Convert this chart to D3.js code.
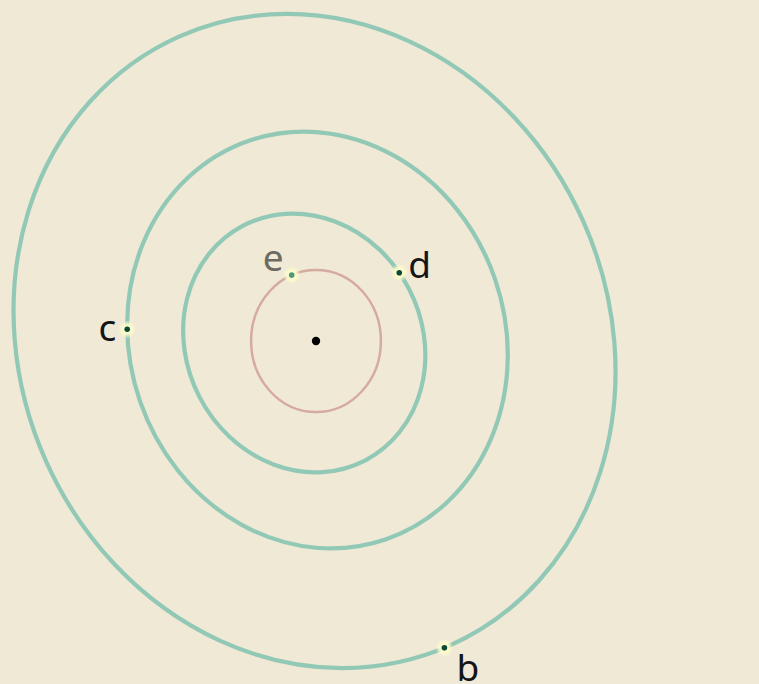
<!DOCTYPE html>
<html>
<head>
<meta charset="utf-8">
<script src="https://cdn.jsdelivr.net/npm/d3@7"></script>
<style>
  html, body { margin: 0; padding: 0; background: #f0e9d6; }
  svg { display: block; }
</style>
</head>
<body>
<div id="chart"></div>
<script>
// HR 8799 planets, sky-projected orbits
const planets = ["b", "c", "d", "e"];
const semiMajorAU = [68, 43, 27, 14.5];
const inclinationDeg = [28, 27, 27, 24];
const tiltDeg = [66, 71, 62.5, 90];          // direction of projected major axis
const centerOffsetAU = [[-0.3, 0], [0.3, -0.2], [-2.4, 0.4], [0, 0]];
const phaseDeg = [1.2, 110, 262, 158];        // where the planet sits on its orbit

const width = 759, height = 684;
const starX = 316, starY = 341;
const pxPerAU = 4.9;

const x = d3.scaleLinear().domain([-80, 80]).range([starX - 80 * pxPerAU, starX + 80 * pxPerAU]);
const y = d3.scaleLinear().domain([-80, 80]).range([starY - 80 * pxPerAU, starY + 80 * pxPerAU]);

const data = planets.map((name, i) => ({
    name,
    a: semiMajorAU[i],
    inc: inclinationDeg[i],
    tilt: tiltDeg[i],
    off: centerOffsetAU[i],
    phase: phaseDeg[i],
}));

const svg = d3.select("#chart")
    .append("svg")
    .attr("width", width)
    .attr("height", height);

svg.append("rect").attr("width", width).attr("height", height).attr("fill", "#f0e9d6");

const defs = svg.append("defs");
const glow = defs.append("radialGradient").attr("id", "glow");
glow.append("stop").attr("offset", "0%").attr("stop-color", "#ffffd6").attr("stop-opacity", 1);
glow.append("stop").attr("offset", "55%").attr("stop-color", "#fdfccb").attr("stop-opacity", 0.9);
glow.append("stop").attr("offset", "100%").attr("stop-color", "#fdfccb").attr("stop-opacity", 0);

// orbit ellipses
const orbits = svg.selectAll("g.orbit")
    .data(data)
    .enter()
    .append("g")
    .attr("class", "orbit")
    .attr("transform", (d) => `translate(${x(d.off[0])},${y(d.off[1])}) rotate(${d.tilt})`);

orbits.append("ellipse")
    .attr("rx", (d) => x(d.a) - x(0))
    .attr("ry", (d) => (x(d.a) - x(0)) * Math.cos(d.inc * Math.PI / 180))
    .attr("fill", "none")
    .attr("stroke", (d) => d.name === "e" ? "#d6ab9f" : "#92c9b6")
    .attr("stroke-width", (d) => d.name === "e" ? 2.5 : 4.2);

// planet position on its projected orbit
function planetPos(d) {
    const rx = x(d.a) - x(0);
    const ry = rx * Math.cos(d.inc * Math.PI / 180);
    const t = d.phase * Math.PI / 180;
    const th = d.tilt * Math.PI / 180;
    const px = rx * Math.cos(t), py = ry * Math.sin(t);
    return [
        x(d.off[0]) + px * Math.cos(th) - py * Math.sin(th),
        y(d.off[1]) + px * Math.sin(th) + py * Math.cos(th),
    ];
}

const labelStyle = {
    b: { dx: 12, dy: 33, anchor: "start", color: "#151515" },
    c: { dx: -11, dy: 12, anchor: "end", color: "#151515" },
    d: { dx: 9, dy: 5, anchor: "start", color: "#151515" },
    e: { dx: -8, dy: -4, anchor: "end", color: "#6d6a62" },
};

const marks = svg.selectAll("g.planet")
    .data(data)
    .enter()
    .append("g")
    .attr("class", "planet")
    .attr("transform", (d) => `translate(${planetPos(d)})`);

marks.append("circle").attr("r", 9).attr("fill", "url(#glow)");
marks.append("circle")
    .attr("r", 2.8)
    .attr("fill", (d) => d.name === "e" ? "#4f9a78" : "#0c4a38");

marks.append("text")
    .attr("x", (d) => labelStyle[d.name].dx)
    .attr("y", (d) => labelStyle[d.name].dy)
    .attr("text-anchor", (d) => labelStyle[d.name].anchor)
    .attr("fill", (d) => labelStyle[d.name].color)
    .attr("font-family", "Noto Sans")
    .attr("font-size", 37)
    .text((d) => d.name);

// star
svg.append("circle")
    .attr("cx", x(0))
    .attr("cy", y(0))
    .attr("r", 4.2)
    .attr("fill", "#000");
</script>
</body>
</html>
